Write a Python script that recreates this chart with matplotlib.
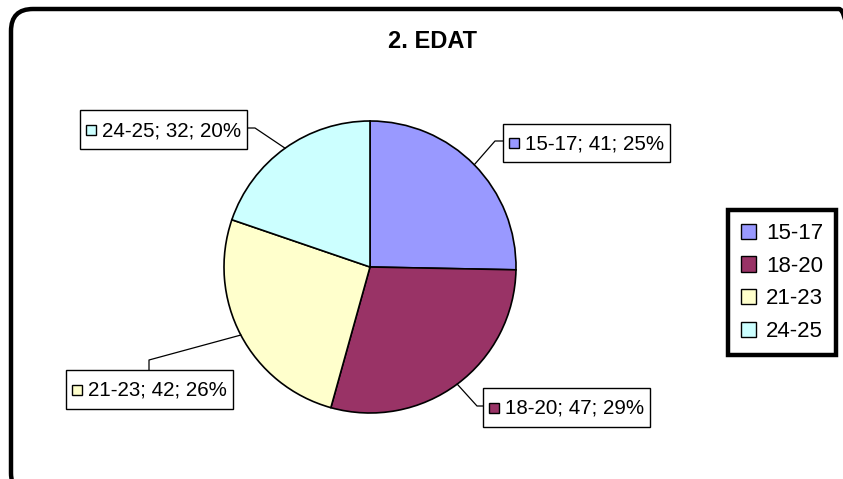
import numpy as np
import matplotlib.pyplot as plt
from matplotlib.patches import Rectangle, FancyBboxPatch, Patch

plt.rcParams['font.family'] = ['Liberation Sans', 'DejaVu Sans']

# data
categories = ['15-17', '18-20', '21-23', '24-25']
counts = [41, 47, 42, 32]
percents = [25, 29, 26, 20]
colors = ['#9999FF', '#993366', '#FFFFCC', '#CCFFFF']
title = '2. EDAT'

W, H = 843, 479


def py(y):
    # pixel row (from top) -> data y
    return H - y


fig = plt.figure(figsize=(W / 100, H / 100), dpi=100)
ax = fig.add_axes([0, 0, 1, 1])

cx, cy, r = 370, 267, 146
wedges, _ = ax.pie(counts, colors=colors, startangle=90, counterclock=False,
                   center=(cx, py(cy)), radius=r,
                   wedgeprops=dict(edgecolor='black', linewidth=1.2))
ax.set_xlim(0, W)
ax.set_ylim(0, H)
ax.set_aspect('auto')
ax.axis('off')

# rounded chart frame, cut at the right and bottom edges
frame = FancyBboxPatch((11, py(495)), 850, 486, boxstyle='round,pad=0,rounding_size=22',
                       facecolor='none', edgecolor='black', linewidth=3.2, zorder=0)
ax.add_patch(frame)

ax.text(433, py(41), title, ha='center', va='center', fontsize=17, fontweight='bold')

# label boxes: (left, top, width, height), elbow point, attach point
box_layout = [
    ((503, 124, 167, 38), (495, 141), (503, 141)),
    ((483, 388, 167, 39), (477, 406), (483, 406)),
    ((66, 370, 167, 39), (149, 360), (149, 370)),
    ((80, 110, 167, 39), (255, 128), (247, 128)),
]

for w, cat, n, p, c, (box, elbow, attach) in zip(wedges, categories, counts, percents, colors, box_layout):
    mid = np.deg2rad((w.theta1 + w.theta2) / 2)
    x0 = cx + r * np.cos(mid)
    y0 = py(cy) + r * np.sin(mid)
    ax.plot([x0, elbow[0], attach[0]], [y0, py(elbow[1]), py(attach[1])],
            color='black', linewidth=0.9, zorder=3)
    left, top, bw, bh = box
    ax.add_patch(Rectangle((left, py(top + bh)), bw, bh, facecolor='white',
                           edgecolor='black', linewidth=1, zorder=4))
    ym = top + bh / 2
    ax.add_patch(Rectangle((left + 6, py(ym + 5)), 10, 10, facecolor=c,
                           edgecolor='black', linewidth=1, zorder=5))
    ax.text(left + 22, py(ym + 1), f'{cat}; {n}; {p}%', ha='left', va='center',
            fontsize=14.8, zorder=6)

handles = [Patch(facecolor=c, edgecolor='black') for c in colors]
leg = ax.legend(handles, categories, loc='upper left',
                bbox_to_anchor=(728 / W, 1 - 210 / H), bbox_transform=fig.transFigure,
                frameon=True, fancybox=False, edgecolor='black', framealpha=1,
                prop={'size': 16}, handlelength=0.68, handleheight=0.68,
                labelspacing=0.52, borderpad=0.6, handletextpad=0.42,
                borderaxespad=0)
leg.get_frame().set_linewidth(3.2)

fig.savefig('out.png', dpi=100)
